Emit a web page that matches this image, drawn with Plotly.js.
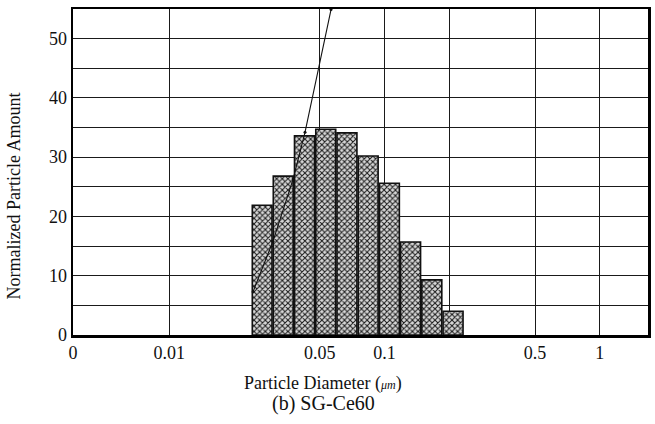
<!DOCTYPE html>
<html>
<head>
<meta charset="utf-8">
<script src="https://cdn.plot.ly/plotly-3.0.1.min.js"></script>
<style>html,body{margin:0;padding:0;background:#fff;}</style>
</head>
<body>
<div id="chart" style="width:655px;height:424px;"></div>
<script>
// Particle diameter (µm) at the centre of each histogram bin
const diameter = [0.0270, 0.0338, 0.0425, 0.0533, 0.0669, 0.0839, 0.1053, 0.1321, 0.1658, 0.2081];
// Normalized particle amount per bin
const amount = [21.9, 26.8, 33.6, 34.7, 34.1, 30.2, 25.6, 15.7, 9.3, 4.0];
// Cumulative curve (continues above the plot top)
const curveDiameter = [0.0245, 0.0303, 0.0376, 0.0427, 0.0564, 0.0600];
const curveAmount = [7.3, 15.8, 26.3, 34.2, 54.9, 60];
// Axis ticks
const xTickVals = [0.003572, 0.01, 0.05, 0.1, 0.2, 0.5, 1];
const xTickText = ['0', '0.01', '0.05', '0.1', '', '0.5', '1'];
const yTickVals = [0, 5, 10, 15, 20, 25, 30, 35, 40, 45, 50];
const yTickText = ['0', '', '10', '', '20', '', '30', '', '40', '', '50'];

// bin edges (geometric midpoints between centres), slightly shrunk for a gap
const n = diameter.length;
const lo = diameter.map((d, i) => i > 0 ? Math.sqrt(d * diameter[i - 1]) : d / Math.sqrt(diameter[1] / diameter[0]));
const hi = diameter.map((d, i) => i < n - 1 ? Math.sqrt(d * diameter[i + 1]) : d * Math.sqrt(diameter[n - 1] / diameter[n - 2]));
const shrink = Math.pow(diameter[1] / diameter[0], 0.03);
const loG = lo.map(v => v * shrink), hiG = hi.map(v => v / shrink);
const widths = hiG.map((h, i) => h - loG[i]);
const offsets = loG.map((l, i) => l - diameter[i]);

const serif = 'Liberation Serif, Times New Roman, serif';

const traces = [
  {
    type: 'bar', x: diameter, y: amount, width: widths, offset: offsets,
    marker: {
      color: '#cfcfcf',
      line: {color: '#111', width: 1.6},
      pattern: {shape: 'x', size: 4, solidity: 0.45, fgcolor: '#1a1a1a', bgcolor: '#d8d8d8'}
    },
    showlegend: false, hoverinfo: 'x+y'
  },
  {
    type: 'scatter', mode: 'lines+markers', x: curveDiameter, y: curveAmount,
    line: {color: '#111', width: 1.1},
    marker: {color: '#111', size: 3},
    cliponaxis: true, showlegend: false
  }
];

const layout = {
  width: 655, height: 424,
  margin: {l: 73, r: 7, t: 9, b: 89.4},
  paper_bgcolor: '#fff', plot_bgcolor: '#fff',
  font: {family: serif, size: 18, color: '#111'},
  xaxis: {
    type: 'log', range: [-2.4474, 0.2239],
    tickmode: 'array', tickvals: xTickVals, ticktext: xTickText,
    showgrid: true, gridcolor: '#1a1a1a', gridwidth: 1,
    showline: true, linecolor: '#000', linewidth: 2.5, mirror: true,
    ticks: '', zeroline: false,
    tickfont: {family: serif, size: 18, color: '#111'}
  },
  yaxis: {
    range: [0, 55],
    tickmode: 'array', tickvals: yTickVals, ticktext: yTickText,
    showgrid: true, gridcolor: '#1a1a1a', gridwidth: 1,
    showline: true, linecolor: '#000', linewidth: 2.5, mirror: true,
    ticks: '', zeroline: false,
    tickfont: {family: serif, size: 18, color: '#111'}
  },
  bargap: 0,
  annotations: [
    {text: 'Normalized Particle Amount', textangle: -90, xref: 'paper', yref: 'paper',
     x: -0.1026, y: 0.425, showarrow: false, xanchor: 'center', yanchor: 'middle',
     font: {family: serif, size: 18, color: '#111'}},
    {text: 'Particle Diameter (<i style="font-size:12px">μm</i>)', xref: 'paper', yref: 'paper',
     x: 0.4348, y: -0.148, showarrow: false, xanchor: 'center', yanchor: 'middle',
     font: {family: serif, size: 18, color: '#111'}},
    {text: '(b) SG-Ce60', xref: 'paper', yref: 'paper',
     x: 0.4348, y: -0.21, showarrow: false, xanchor: 'center', yanchor: 'middle',
     font: {family: serif, size: 20, color: '#111'}}
  ]
};

Plotly.newPlot('chart', traces, layout, {displayModeBar: false, staticPlot: true});
</script>
</body>
</html>
